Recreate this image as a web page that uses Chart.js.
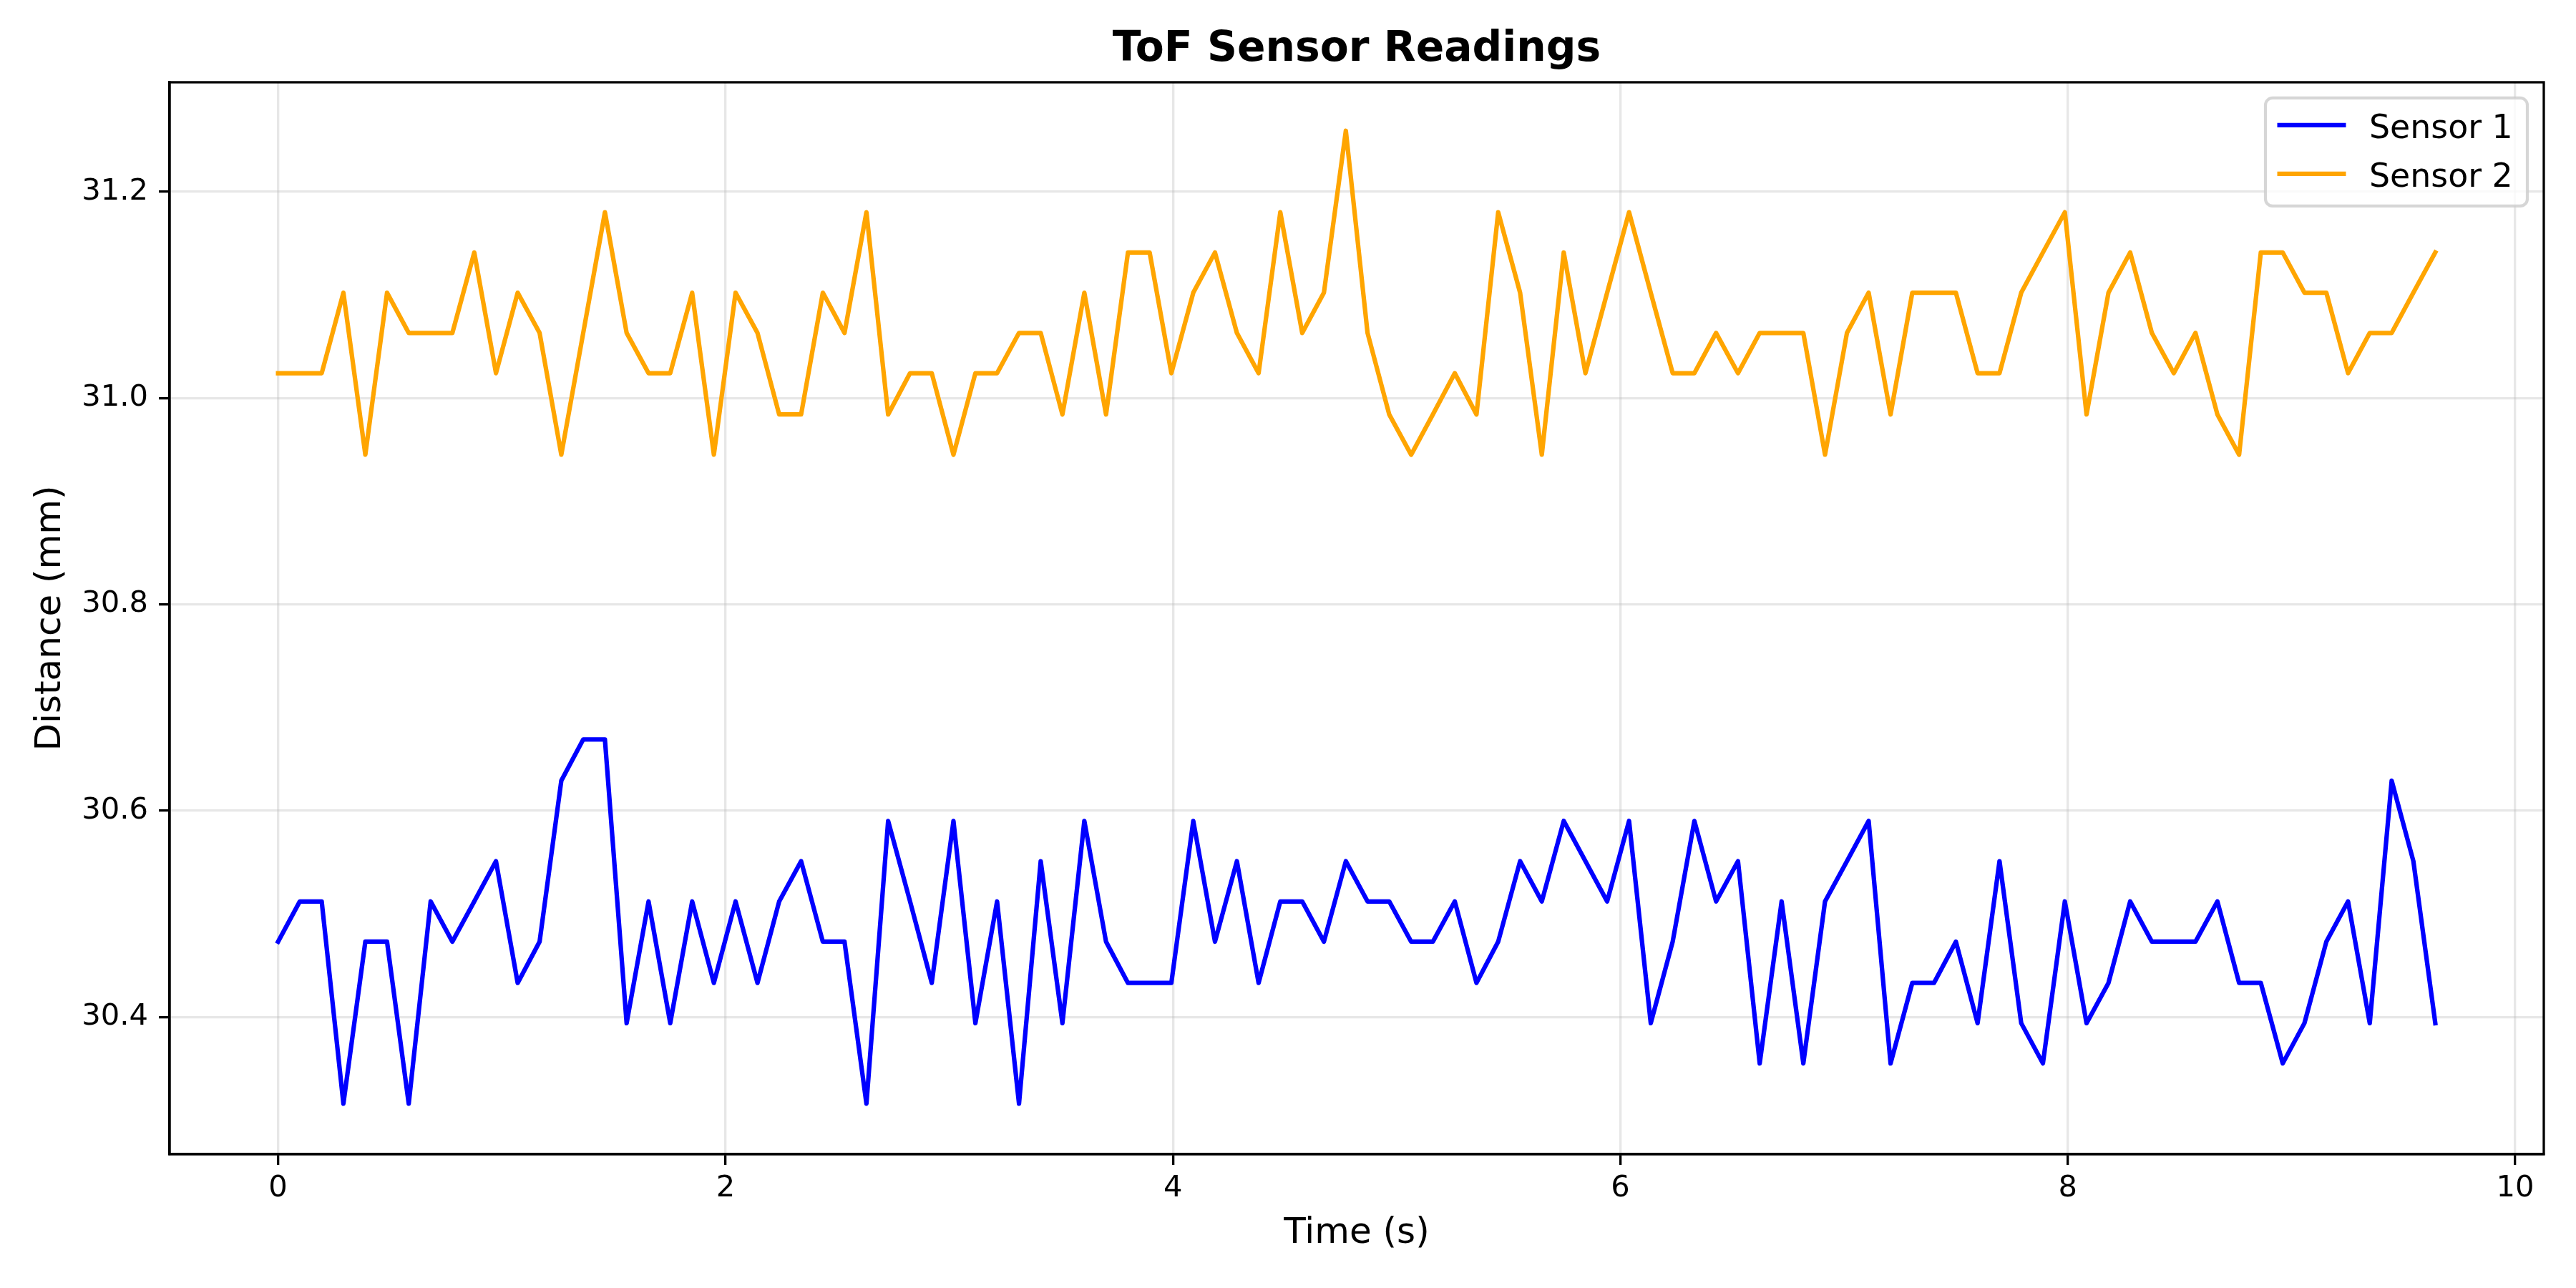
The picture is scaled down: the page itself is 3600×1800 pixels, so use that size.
<!DOCTYPE html>
<html>
<head>
<meta charset="utf-8">
<title>ToF Sensor Readings</title>
<script src="https://cdn.jsdelivr.net/npm/chart.js@4.4.1/dist/chart.umd.min.js"></script>
<style>
  html, body { margin: 0; padding: 0; background: #fff; overflow: hidden; }
  #wrap { width: 3600px; height: 1800px; }
</style>
</head>
<body>
<div id="wrap"><canvas id="myChart" width="3600" height="1800" style="width:3600px;height:1800px"></canvas></div>
<script>
// time in seconds
const timeS = [
  0.000, 0.097, 0.195, 0.292, 0.390, 0.487, 0.584, 0.682, 0.779, 0.877,
  0.974, 1.071, 1.169, 1.266, 1.364, 1.461, 1.558, 1.656, 1.753, 1.851,
  1.948, 2.045, 2.143, 2.240, 2.338, 2.435, 2.532, 2.630, 2.727, 2.825,
  2.922, 3.019, 3.117, 3.214, 3.312, 3.409, 3.506, 3.604, 3.701, 3.799,
  3.896, 3.993, 4.091, 4.188, 4.286, 4.383, 4.480, 4.578, 4.675, 4.773,
  4.870, 4.967, 5.065, 5.162, 5.260, 5.357, 5.454, 5.552, 5.649, 5.747,
  5.844, 5.941, 6.039, 6.136, 6.234, 6.331, 6.428, 6.526, 6.623, 6.721,
  6.818, 6.915, 7.013, 7.110, 7.208, 7.305, 7.402, 7.500, 7.597, 7.695,
  7.792, 7.889, 7.987, 8.084, 8.182, 8.279, 8.376, 8.474, 8.571, 8.669,
  8.766, 8.863, 8.961, 9.058, 9.156, 9.253, 9.350, 9.448, 9.545, 9.643
];

// distance readings (mm)
const sensor1 = [
  30.473, 30.512, 30.512, 30.316, 30.473, 30.473, 30.316, 30.512, 30.473, 30.512,
  30.551, 30.433, 30.473, 30.629, 30.669, 30.669, 30.394, 30.512, 30.394, 30.512,
  30.433, 30.512, 30.433, 30.512, 30.551, 30.473, 30.473, 30.316, 30.590, 30.512,
  30.433, 30.590, 30.394, 30.512, 30.316, 30.551, 30.394, 30.590, 30.473, 30.433,
  30.433, 30.433, 30.590, 30.473, 30.551, 30.433, 30.512, 30.512, 30.473, 30.551,
  30.512, 30.512, 30.473, 30.473, 30.512, 30.433, 30.473, 30.551, 30.512, 30.590,
  30.551, 30.512, 30.590, 30.394, 30.473, 30.590, 30.512, 30.551, 30.355, 30.512,
  30.355, 30.512, 30.551, 30.590, 30.355, 30.433, 30.433, 30.473, 30.394, 30.551,
  30.394, 30.355, 30.512, 30.394, 30.433, 30.512, 30.473, 30.473, 30.473, 30.512,
  30.433, 30.433, 30.355, 30.394, 30.473, 30.512, 30.394, 30.629, 30.551, 30.394
];

const sensor2 = [
  31.024, 31.024, 31.024, 31.102, 30.945, 31.102, 31.063, 31.063, 31.063, 31.141,
  31.024, 31.102, 31.063, 30.945, 31.063, 31.180, 31.063, 31.024, 31.024, 31.102,
  30.945, 31.102, 31.063, 30.984, 30.984, 31.102, 31.063, 31.180, 30.984, 31.024,
  31.024, 30.945, 31.024, 31.024, 31.063, 31.063, 30.984, 31.102, 30.984, 31.141,
  31.141, 31.024, 31.102, 31.141, 31.063, 31.024, 31.180, 31.063, 31.102, 31.259,
  31.063, 30.984, 30.945, 30.984, 31.024, 30.984, 31.180, 31.102, 30.945, 31.141,
  31.024, 31.102, 31.180, 31.102, 31.024, 31.024, 31.063, 31.024, 31.063, 31.063,
  31.063, 30.945, 31.063, 31.102, 30.984, 31.102, 31.102, 31.102, 31.024, 31.024,
  31.102, 31.141, 31.180, 30.984, 31.102, 31.141, 31.063, 31.024, 31.063, 30.984,
  30.945, 31.141, 31.141, 31.102, 31.102, 31.024, 31.063, 31.063, 31.102, 31.141
];

const xTicks = [0, 2, 4, 6, 8, 10];
const yTicks = [30.4, 30.6, 30.8, 31.0, 31.2];

const FONT = "'DejaVu Sans', 'Liberation Sans', sans-serif";
Chart.defaults.font.family = FONT;
Chart.defaults.color = '#000';

function toPoints(values) {
  return values.map((v, i) => ({ x: timeS[i], y: v }));
}

// top/right spines plus legend box inside the plot, like matplotlib
const framePlugin = {
  id: 'frameAndLegend',
  afterDraw(chart) {
    const ctx = chart.ctx;
    const a = chart.chartArea;
    ctx.save();
    ctx.strokeStyle = '#000';
    ctx.lineWidth = 3.3;
    ctx.strokeRect(a.left, a.top, a.right - a.left, a.bottom - a.top);

    const w = 366, h = 151, r = 10;
    const x0 = a.right - 23 - w;
    const y0 = a.top + 22;
    ctx.beginPath();
    ctx.moveTo(x0 + r, y0);
    ctx.lineTo(x0 + w - r, y0);
    ctx.arcTo(x0 + w, y0, x0 + w, y0 + r, r);
    ctx.lineTo(x0 + w, y0 + h - r);
    ctx.arcTo(x0 + w, y0 + h, x0 + w - r, y0 + h, r);
    ctx.lineTo(x0 + r, y0 + h);
    ctx.arcTo(x0, y0 + h, x0, y0 + h - r, r);
    ctx.lineTo(x0, y0 + r);
    ctx.arcTo(x0, y0, x0 + r, y0, r);
    ctx.closePath();
    ctx.fillStyle = 'rgba(255,255,255,0.8)';
    ctx.fill();
    ctx.strokeStyle = 'rgba(204,204,204,0.8)';
    ctx.lineWidth = 4.2;
    ctx.stroke();

    ctx.font = '45.8px ' + FONT;
    ctx.textAlign = 'left';
    ctx.textBaseline = 'alphabetic';
    chart.data.datasets.forEach((ds, i) => {
      const ly = y0 + 38 + i * 68;
      ctx.strokeStyle = ds.borderColor;
      ctx.lineWidth = 6.25;
      ctx.beginPath();
      ctx.moveTo(x0 + 16.5, ly);
      ctx.lineTo(x0 + 112.5, ly);
      ctx.stroke();
      ctx.fillStyle = '#000';
      ctx.fillText(ds.label, x0 + 145, ly + 17.7);
    });
    ctx.restore();
  }
};

const ctx = document.getElementById('myChart').getContext('2d');
new Chart(ctx, {
  type: 'line',
  data: {
    datasets: [
      { label: 'Sensor 1', data: toPoints(sensor1), borderColor: '#0000ff' },
      { label: 'Sensor 2', data: toPoints(sensor2), borderColor: '#ffa500' }
    ]
  },
  options: {
    responsive: false,
    animation: false,
    devicePixelRatio: 1,
    layout: { padding: { left: 0, right: 45, top: 0, bottom: 0 } },
    elements: {
      point: { radius: 0, hoverRadius: 0 },
      line: { borderWidth: 6.25, tension: 0, borderJoinStyle: 'round', borderCapStyle: 'square', fill: false }
    },
    plugins: {
      legend: { display: false },
      tooltip: { enabled: false },
      title: {
        display: true,
        text: 'ToF Sensor Readings',
        fullSize: false,
        color: '#000',
        font: { size: 58.3, weight: 'bold' },
        padding: { top: 35, bottom: 10 }
      }
    },
    scales: {
      x: {
        type: 'linear',
        min: -0.485,
        max: 10.128,
        afterBuildTicks: s => { s.ticks = xTicks.map(v => ({ value: v })); },
        afterFit: s => { s.height = 187; },
        ticks: { font: { size: 41.7 }, color: '#000', padding: 8, maxRotation: 0, callback: v => String(v) },
        grid: { color: 'rgba(176,176,176,0.3)', lineWidth: 3.3, tickLength: 15, tickColor: '#000', tickWidth: 3.3 },
        border: { color: '#000', width: 3.3 },
        title: { display: true, text: 'Time (s)', color: '#000', font: { size: 50 }, padding: { top: 0, bottom: 46 } }
      },
      y: {
        type: 'linear',
        min: 30.267,
        max: 31.306,
        afterBuildTicks: s => { s.ticks = yTicks.map(v => ({ value: v })); },
        afterFit: s => { s.width = 237; },
        ticks: { font: { size: 41.7 }, color: '#000', padding: 15, callback: v => v.toFixed(1) },
        grid: { color: 'rgba(176,176,176,0.3)', lineWidth: 3.3, tickLength: 15, tickColor: '#000', tickWidth: 3.3 },
        border: { color: '#000', width: 3.3 },
        title: { display: true, text: 'Distance (mm)', color: '#000', font: { size: 50 }, padding: { top: 41, bottom: 0 } }
      }
    }
  },
  plugins: [framePlugin]
});
</script>
</body>
</html>
